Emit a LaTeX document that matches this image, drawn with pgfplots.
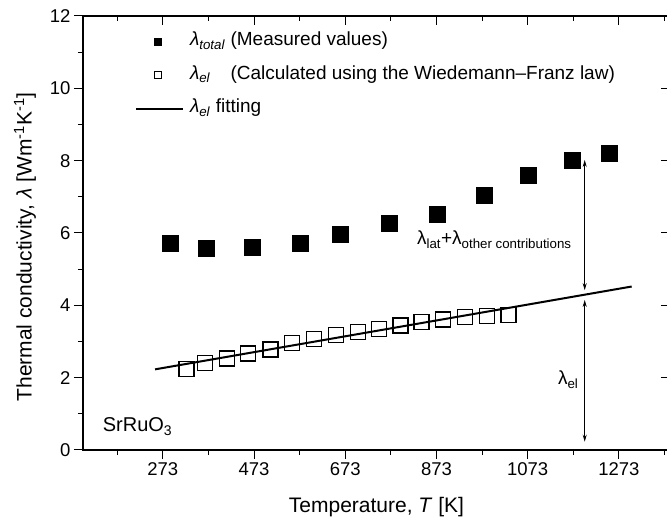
\documentclass[border=0pt]{standalone}
\usepackage{fontspec}
\setmainfont{Liberation Sans}
\usepackage{pgfplots}
\pgfplotsset{compat=1.18}
\usetikzlibrary{arrows.meta}

\pgfplotsset{
  legsqf/.style={legend image code/.code={\draw[##1, mark size=3.6pt] plot coordinates {(0pt,0pt)};}},
  legsqo/.style={legend image code/.code={\draw[##1, mark size=3.6pt, mark options={line width=0.8pt}] plot coordinates {(0pt,0pt)};}},
  legln/.style={legend image code/.code={\draw[##1] (-22pt,0pt) -- (25pt,0pt);}},
}

\pgfplotstableread{
T v
290 5.73
369 5.58
469 5.60
574 5.71
663 5.97
770 6.28
874 6.52
978 7.05
1075 7.60
1171 8.00
1252 8.20
}\total

\pgfplotstableread{
T v
325 2.24
365 2.41
413 2.53
460 2.67
509 2.78
556 2.95
605 3.06
652 3.18
701 3.26
747 3.34
794 3.44
840 3.55
888 3.61
935 3.68
983 3.70
1031 3.73
}\el

\pgfplotstableread{
T v
256 2.23
1301 4.52
}\fit

\begin{document}
\begin{tikzpicture}
\begin{axis}[name=ax, scale only axis, width=587pt, height=434pt,
  xmin=98, xmax=1385, ymin=0, ymax=12,
  axis line style={line width=1.1pt},
  xtick={273,473,...,1273}, minor xtick={173,373,...,1373},
  ytick={0,2,...,12}, minor ytick={1,3,...,11},
  xtick pos=bottom, ytick pos=left, tick align=outside,
  major tick length=9pt, minor tick length=5pt,
  every tick/.style={line width=1pt, black},
  /pgf/number format/assume math mode=true,
  /pgf/number format/1000 sep={},
  ticklabel style={font=\fontsize{18.5}{18.5}\selectfont},
  xlabel={Temperature, \textit{T} [K]},
  ylabel={Thermal conductivity, \textit{λ} [Wm\textsuperscript{-1}K\textsuperscript{-1}]},
  label style={font=\fontsize{21}{21}\selectfont},
  x label style={at={([yshift=-57pt]axis description cs:0.5,0)}, anchor=center},
  y label style={at={([xshift=-58pt]axis description cs:0,0.468)}, anchor=center},
  legend cell align=left,
  legend style={draw=none, fill=none, inner sep=0pt, outer sep=0pt,
    at={(axis description cs:0.0886,0.966)}, anchor=north west,
    font=\fontsize{19}{19}\selectfont, row sep=11.5pt,
    /tikz/every odd column/.append style={column sep=4pt},
    nodes={text height=13pt, text depth=5pt, inner sep=2pt}},
  clip=false,
]
\addplot[only marks, mark=square*, mark size=8pt, black, fill=black, legsqf]
  table[x=T, y=v] {\total};
\addlegendentry{\textit{λ}\textsubscript{\textit{total}} (Measured values)}
\addplot[only marks, mark=square, mark size=7.5pt, black, mark options={line width=1.2pt}, legsqo]
  table[x=T, y=v] {\el};
\addlegendentry{\textit{λ}\textsubscript{\textit{el}}\hspace{20pt}(Calculated using the Wiedemann–Franz law)}
\addplot[black, line width=2pt, no marks, legln]
  table[x=T, y=v] {\fit};
\addlegendentry{\textit{λ}\textsubscript{\textit{el}} fitting}

\draw[line width=0.9pt, {Stealth[length=7pt,width=4pt]}-{Stealth[length=7pt,width=4pt]}]
  (axis cs:1198,8.02) -- (axis cs:1198,4.42);
\draw[line width=0.9pt, {Stealth[length=7pt,width=4pt]}-{Stealth[length=7pt,width=4pt]}]
  (axis cs:1198,4.15) -- (axis cs:1198,0.23);
\node[anchor=base west, inner sep=0pt, font=\fontsize{19}{19}\selectfont]
  at (axis cs:830,5.67) {λ\textsubscript{lat}+λ\textsubscript{other contributions}};
\node[anchor=base west, inner sep=0pt, font=\fontsize{19}{19}\selectfont]
  at (axis cs:1139,1.8) {λ\textsubscript{el}};
\node[anchor=base west, inner sep=0pt, font=\fontsize{20}{20}\selectfont]
  at (axis cs:141,0.5) {SrRuO\textsubscript{3}};
\end{axis}
\begin{axis}[scale only axis, width=587pt, height=434pt,
  xmin=98, xmax=1385, ymin=0, ymax=12,
  axis line style={line width=1.1pt},
  xtick={273,473,...,1273}, minor xtick={173,373,...,1373},
  ytick={0,2,...,12},
  xtick pos=top, ytick pos=right, tick align=inside,
  major tick length=9pt, minor tick length=5pt,
  every tick/.style={line width=1pt, black},
  xticklabels={}, yticklabels={},
]
\end{axis}
\pgfresetboundingbox
\path[use as bounding box] ([shift={(-83pt,-72pt)}]ax.south west) rectangle ([shift={(584pt,450pt)}]ax.south west);
\end{tikzpicture}
\end{document}
